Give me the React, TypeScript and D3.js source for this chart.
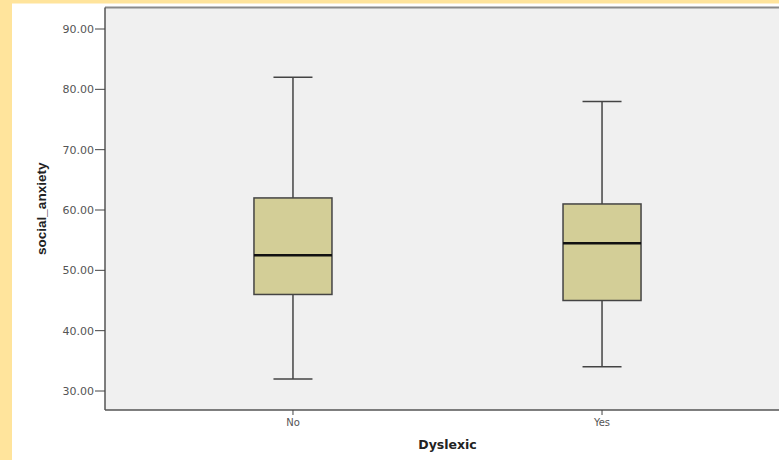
import React from "react";
import { scaleLinear, scaleBand } from "d3";

// values
const categories = ["No", "Yes"];
const whiskerLow = [32, 34];
const q1 = [46, 45];
const median = [52.5, 54.5];
const q3 = [62, 61];
const whiskerHigh = [82, 78];
const yTicks = [30, 40, 50, 60, 70, 80, 90];

const W = 779;
const H = 460;
const plotLeft = 105;
const plotRight = 790;
const plotTop = 7.5;
const plotBottom = 410;

export default function App() {
  const y = scaleLinear().domain([30, 90]).range([391, 29]);
  const x = scaleBand()
    .domain(categories)
    .range([plotLeft, plotRight])
    .paddingInner(0.7476)
    .paddingOuter(0.482);

  const bw = x.bandwidth();
  const font = "'DejaVu Sans', Verdana, sans-serif";

  return (
    <svg width={W} height={H} style={{ position: "absolute", left: 0, top: 0 }}>
      {/* page background */}
      <rect x={0} y={0} width={W} height={H} fill="#ffffff" />
      <rect x={0} y={0} width={12} height={H} fill="#ffe49c" />
      <rect x={0} y={0} width={W} height={3.5} fill="#ffe49c" />

      {/* plot area */}
      <rect x={plotLeft} y={plotTop} width={plotRight - plotLeft} height={plotBottom - plotTop} fill="#f0f0f0" />
      <line x1={plotLeft} x2={W} y1={plotTop} y2={plotTop} stroke="#8a8a8a" strokeWidth={2} />
      <line x1={plotLeft} x2={plotLeft} y1={plotTop} y2={plotBottom} stroke="#555" strokeWidth={1.5} />
      <line x1={plotLeft} x2={W} y1={plotBottom} y2={plotBottom} stroke="#555" strokeWidth={1.5} />

      {/* y axis */}
      {yTicks.map(t => (
        <g key={t}>
          <line x1={95} x2={plotLeft} y1={y(t)} y2={y(t)} stroke="#444" strokeWidth={1} />
          <text x={94} y={y(t)} dy="0.35em" textAnchor="end" fontFamily={font} fontSize={11} fill="#555">
            {t.toFixed(2)}
          </text>
        </g>
      ))}
      <text
        transform={`translate(46, ${(plotTop + plotBottom) / 2}) rotate(-90)`}
        textAnchor="middle"
        fontFamily="'Liberation Sans Narrow', 'Liberation Sans', Arial, sans-serif"
        fontWeight="bold"
        fontSize={13.5}
        fill="#222"
      >
        social_anxiety
      </text>

      {/* x axis */}
      {categories.map(c => {
        const cx = (x(c) as number) + bw / 2;
        return (
          <g key={c}>
            <line x1={cx} x2={cx} y1={plotBottom} y2={plotBottom + 5} stroke="#444" strokeWidth={1} />
            <text x={cx} y={426} textAnchor="middle" fontFamily={font} fontSize={10} fill="#555">
              {c}
            </text>
          </g>
        );
      })}
      <text x={(plotLeft + plotRight) / 2} y={449} textAnchor="middle" fontFamily={font} fontWeight="bold" fontSize={12.5} fill="#222">
        Dyslexic
      </text>

      {/* boxes */}
      {categories.map((c, i) => {
        const x0 = x(c) as number;
        const cx = x0 + bw / 2;
        const cap = bw / 4;
        return (
          <g key={c}>
            <line x1={cx} x2={cx} y1={y(whiskerHigh[i])} y2={y(q3[i])} stroke="#444" strokeWidth={1.5} />
            <line x1={cx} x2={cx} y1={y(q1[i])} y2={y(whiskerLow[i])} stroke="#444" strokeWidth={1.5} />
            <line x1={cx - cap} x2={cx + cap} y1={y(whiskerHigh[i])} y2={y(whiskerHigh[i])} stroke="#444" strokeWidth={1.5} />
            <line x1={cx - cap} x2={cx + cap} y1={y(whiskerLow[i])} y2={y(whiskerLow[i])} stroke="#444" strokeWidth={1.5} />
            <rect
              x={x0}
              y={y(q3[i])}
              width={bw}
              height={y(q1[i]) - y(q3[i])}
              fill="#d3ce97"
              stroke="#444"
              strokeWidth={1.5}
            />
            <line x1={x0} x2={x0 + bw} y1={y(median[i])} y2={y(median[i])} stroke="#111" strokeWidth={2.5} />
          </g>
        );
      })}
    </svg>
  );
}
